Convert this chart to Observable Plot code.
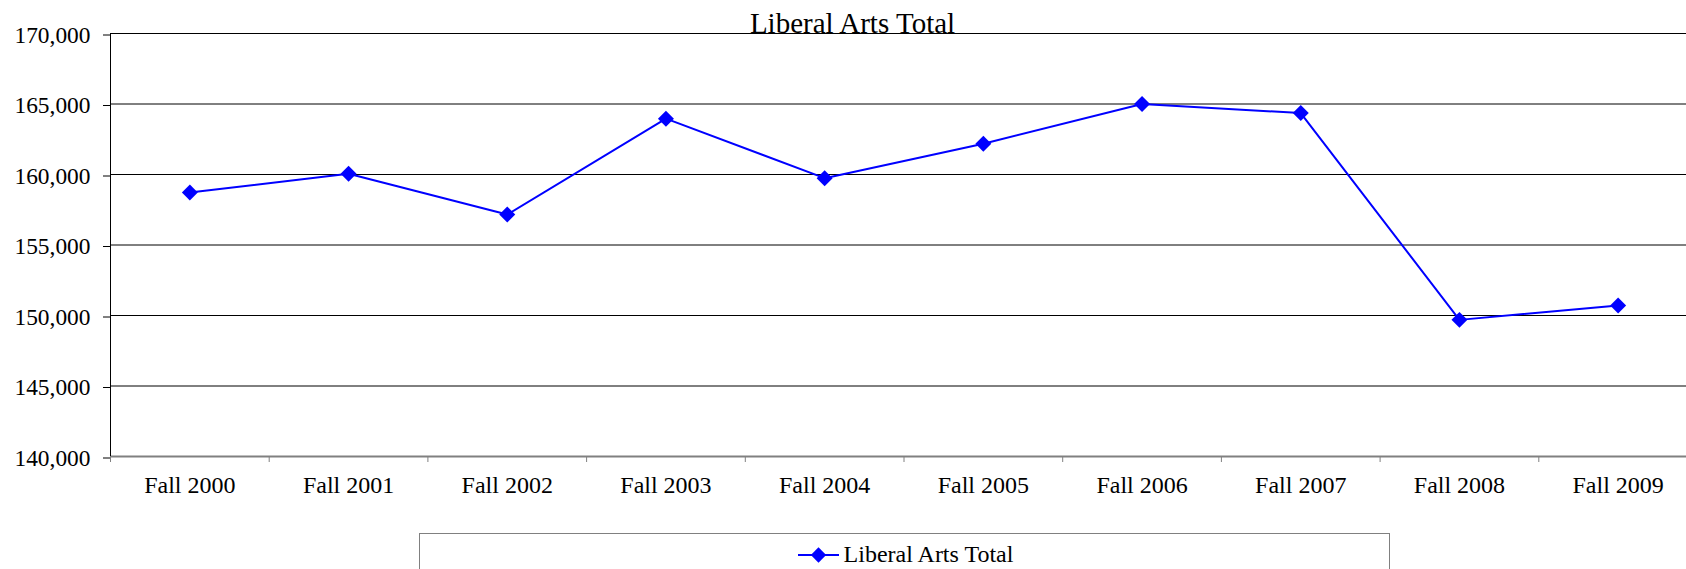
<!DOCTYPE html>
<html>
<head>
<meta charset="utf-8">
<script src="https://cdn.jsdelivr.net/npm/d3@7"></script>
<script src="https://cdn.jsdelivr.net/npm/@observablehq/plot@0.6"></script>
<style>
  html, body { margin: 0; padding: 0; background: #fff; }
  body { width: 1686px; height: 569px; overflow: hidden; font-family: "Liberation Serif", "Times New Roman", serif; }
  #legend {
    margin-top: 13px;
    margin-left: 419px;
    width: 971px;
    height: 80px;
    box-sizing: border-box;
    border: 1px solid #808080;
  }
  #legend .row {
    height: 41px;
    display: flex;
    align-items: center;
    justify-content: center;
    font-size: 24px;
    color: #000;
  }
  #legend svg { display: block; margin-right: 5px; margin-left: 2px; }
</style>
</head>
<body>
<div id="chart"></div>
<div id="legend"><div class="row"><span id="swatch"></span><span id="legend-label"></span></div></div>
<script>
const categories = ["Fall 2000", "Fall 2001", "Fall 2002", "Fall 2003", "Fall 2004",
                    "Fall 2005", "Fall 2006", "Fall 2007", "Fall 2008", "Fall 2009"];
const values = [158720, 160050, 157160, 163960, 159740, 162180, 165000, 164360, 149690, 150710];
const yTicks = [140000, 145000, 150000, 155000, 160000, 165000, 170000];
const title = "Liberal Arts Total";
const seriesName = "Liberal Arts Total";
const seriesColor = "#0000FF";

const data = categories.map((c, i) => ({category: c, pos: i + 0.5, value: values[i]}));
const fmt = d3.format(",");

const chart = Plot.plot({
  width: 1686,
  height: 520,
  marginLeft: 110,
  marginRight: -11,
  marginTop: 33,
  marginBottom: 64,
  style: {fontFamily: '"Liberation Serif", "Times New Roman", serif', fontSize: "23.4px", color: "#000", background: "white"},
  x: {type: "linear", domain: [0, categories.length], axis: null, label: null},
  y: {domain: [yTicks[0], yTicks[yTicks.length - 1]], axis: null, label: null},
  marks: [
    Plot.gridY(yTicks.slice(1), {stroke: "#000", strokeOpacity: 1, strokeWidth: 1}),
    Plot.ruleY([yTicks[0]], {stroke: "#808080", strokeWidth: 2}),
    Plot.ruleX([0], {stroke: "#000", strokeWidth: 1}),
    Plot.axisY(yTicks, {tickSize: 7, tickPadding: 13, tickFormat: fmt, stroke: "#000", dy: 1.5, label: null, fontSize: 23.4}),
    Plot.axisX(d3.range(categories.length + 1), {tickSize: 6, tickFormat: () => "", stroke: "#808080", label: null}),
    Plot.axisX(data.map(d => d.pos), {tickSize: 0, tickPadding: 19, tickFormat: v => categories[Math.floor(v)], label: null, fontSize: 24}),
    Plot.line(data, {x: "pos", y: "value", stroke: seriesColor, strokeWidth: 2}),
    Plot.dot(data, {x: "pos", y: "value", symbol: "diamond2", r: 7.2, fill: seriesColor, stroke: "none"}),
    Plot.text([title], {frameAnchor: "top", dx: -51.5, dy: -1, lineAnchor: "bottom", fontSize: 29, fill: "#000"})
  ]
});
document.getElementById("chart").appendChild(chart);

// legend swatch
const sw = d3.create("svg").attr("width", 41).attr("height", 16);
sw.append("line").attr("x1", 0).attr("x2", 41).attr("y1", 8).attr("y2", 8)
  .attr("stroke", seriesColor).attr("stroke-width", 2);
sw.append("path").attr("d", d3.symbol(d3.symbolDiamond2, 150)()).attr("transform", "translate(20.5,8)")
  .attr("fill", seriesColor);
document.getElementById("swatch").appendChild(sw.node());
document.getElementById("legend-label").textContent = seriesName;
</script>
</body>
</html>
